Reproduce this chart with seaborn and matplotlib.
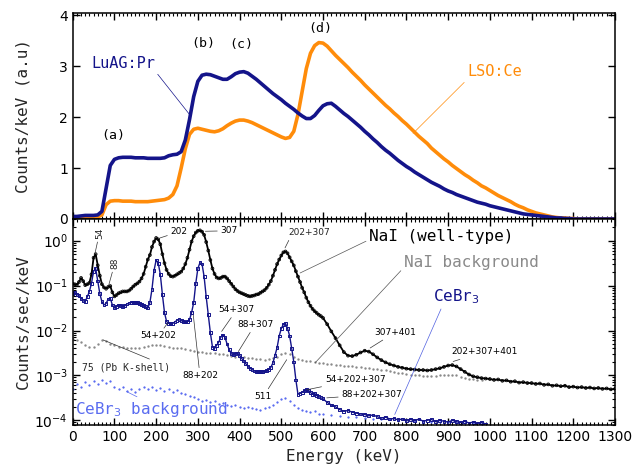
import numpy as np
import pandas as pd
import matplotlib
matplotlib.use("Agg")
import matplotlib.pyplot as plt
from matplotlib.ticker import MultipleLocator, LogLocator, NullFormatter
import seaborn as sns

NAVY = "#14148a"
ORANGE = "#ff8c0a"
GRAY = "#8a8a8a"
LIGHTBLUE = "#5a6cf0"
MONO = "DejaVu Sans Mono"

# ---------------- top panel: scintillator spectra (10 keV grid)
energy_top = np.arange(0, 1310, 10)
luag_pr = [0.05, 0.05, 0.06, 0.07, 0.07, 0.07, 0.08, 0.15, 0.60, 1.05,
           1.17, 1.20, 1.21, 1.21, 1.21, 1.20, 1.20, 1.20, 1.19, 1.19,
           1.19, 1.19, 1.20, 1.24, 1.26, 1.27, 1.32, 1.55, 1.95, 2.40,
           2.70, 2.82, 2.84, 2.83, 2.80, 2.77, 2.74, 2.74, 2.79, 2.85,
           2.88, 2.89, 2.86, 2.80, 2.74, 2.67, 2.60, 2.53, 2.46, 2.40,
           2.34, 2.27, 2.21, 2.15, 2.08, 2.02, 1.97, 1.97, 2.03, 2.13,
           2.22, 2.26, 2.27, 2.21, 2.14, 2.07, 2.01, 1.94, 1.87, 1.80,
           1.72, 1.65, 1.57, 1.50, 1.42, 1.35, 1.29, 1.22, 1.15, 1.09,
           1.03, 0.98, 0.92, 0.87, 0.82, 0.77, 0.72, 0.68, 0.64, 0.59,
           0.55, 0.52, 0.48, 0.45, 0.42, 0.39, 0.36, 0.33, 0.31, 0.29,
           0.26, 0.24, 0.22, 0.20, 0.18, 0.16, 0.14, 0.12, 0.10, 0.09,
           0.08, 0.07, 0.06, 0.05, 0.04, 0.03, 0.02, 0.02, 0.01, 0.01,
           0, 0, 0, 0, 0, 0, 0, 0, 0, 0, 0]
lso_ce = [0.00, 0.01, 0.02, 0.02, 0.03, 0.03, 0.04, 0.08, 0.28, 0.35,
          0.36, 0.36, 0.35, 0.35, 0.35, 0.34, 0.34, 0.34, 0.34, 0.35,
          0.36, 0.37, 0.38, 0.41, 0.48, 0.65, 1.00, 1.38, 1.66, 1.76,
          1.78, 1.76, 1.74, 1.72, 1.71, 1.73, 1.77, 1.83, 1.88, 1.92,
          1.94, 1.94, 1.92, 1.89, 1.85, 1.81, 1.77, 1.73, 1.69, 1.65,
          1.61, 1.58, 1.60, 1.72, 2.05, 2.50, 2.95, 3.25, 3.40, 3.46,
          3.45, 3.39, 3.30, 3.21, 3.13, 3.05, 2.97, 2.88, 2.80, 2.72,
          2.63, 2.55, 2.47, 2.39, 2.31, 2.23, 2.16, 2.08, 2.01, 1.93,
          1.86, 1.78, 1.70, 1.62, 1.55, 1.48, 1.39, 1.32, 1.25, 1.18,
          1.12, 1.05, 0.99, 0.93, 0.87, 0.82, 0.76, 0.71, 0.65, 0.61,
          0.56, 0.51, 0.46, 0.42, 0.38, 0.34, 0.29, 0.25, 0.22, 0.18,
          0.15, 0.12, 0.10, 0.08, 0.06, 0.04, 0.03, 0.02, 0.02, 0.01,
          0.01, 0, 0, 0, 0, 0, 0, 0, 0, 0, 0]

# ---------------- bottom panel: log10(counts/sec/keV)
nai_energy = np.r_[np.arange(0, 600, 5), np.arange(600, 1310, 10)]
nai_log = [-0.96, -0.97, -0.98, -0.92, -0.83, -0.90, -0.99, -0.97, -0.94, -0.75,
           -0.38, -0.30, -0.55, -0.78, -0.97, -1.04, -1.07, -1.03, -1.01, -1.15,
           -1.24, -1.21, -1.17, -1.15, -1.13, -1.13, -1.13, -1.11, -1.07, -1.02,
           -0.98, -0.95, -0.91, -0.84, -0.74, -0.58, -0.42, -0.32, -0.14, -0.02,
           0.06, 0.03, -0.08, -0.30, -0.50, -0.65, -0.74, -0.79, -0.80, -0.78,
           -0.75, -0.72, -0.69, -0.62, -0.52, -0.38, -0.20, -0.02, 0.10, 0.18,
           0.22, 0.23, 0.20, 0.13, -0.03, -0.22, -0.43, -0.62, -0.74, -0.82,
           -0.84, -0.83, -0.80, -0.80, -0.84, -0.90, -0.96, -1.02, -1.08, -1.12,
           -1.15, -1.17, -1.19, -1.21, -1.23, -1.24, -1.23, -1.22, -1.20, -1.19,
           -1.16, -1.13, -1.10, -1.05, -0.98, -0.90, -0.78, -0.65, -0.52, -0.42,
           -0.33, -0.26, -0.24, -0.28, -0.37, -0.46, -0.55, -0.68, -0.80, -0.92,
           -1.05, -1.15, -1.27, -1.37, -1.45, -1.52, -1.57, -1.61, -1.65, -1.68,
           # 600 keV onwards, 10 keV steps
           -1.72, -1.86, -2.02, -2.17, -2.33, -2.48, -2.56, -2.57, -2.54, -2.49,
           -2.45, -2.47, -2.53, -2.60, -2.66, -2.71, -2.75, -2.78, -2.81, -2.83,
           -2.85, -2.86, -2.87, -2.88, -2.88, -2.89, -2.88, -2.86, -2.84, -2.81,
           -2.78, -2.77, -2.80, -2.86, -2.92, -2.98, -3.02, -3.04, -3.06, -3.07,
           -3.08, -3.10, -3.09, -3.12, -3.11, -3.14, -3.13, -3.16, -3.15, -3.17,
           -3.17, -3.19, -3.18, -3.21, -3.20, -3.23, -3.22, -3.24, -3.23, -3.26,
           -3.25, -3.27, -3.26, -3.28, -3.27, -3.29, -3.28, -3.30, -3.29, -3.31, -3.30]

nai_bg_energy = np.arange(0, 990, 10)
nai_bg_log = [-2.20, -2.22, -2.25, -2.33, -2.37, -2.36, -2.30, -2.22, -2.24, -2.29,
              -2.33, -2.36, -2.37, -2.38, -2.39, -2.39, -2.38, -2.36, -2.34, -2.33,
              -2.32, -2.32, -2.34, -2.36, -2.38, -2.39, -2.40, -2.42, -2.44, -2.45,
              -2.47, -2.48, -2.49, -2.50, -2.51, -2.52, -2.53, -2.54, -2.56, -2.58,
              -2.59, -2.60, -2.61, -2.62, -2.63, -2.64, -2.65, -2.64, -2.62, -2.58,
              -2.53, -2.50, -2.53, -2.58, -2.63, -2.65, -2.67, -2.69, -2.71, -2.72,
              -2.73, -2.74, -2.75, -2.76, -2.77, -2.78, -2.79, -2.80, -2.81, -2.82,
              -2.83, -2.84, -2.85, -2.86, -2.87, -2.88, -2.90, -2.92, -2.94, -2.95,
              -2.97, -2.98, -2.99, -3.00, -3.01, -3.02, -3.02, -3.01, -3.00, -2.99,
              -2.98, -2.98, -3.00, -3.03, -3.06, -3.08, -3.09, -3.10, -3.11]

cebr_energy = np.r_[np.arange(0, 600, 5), np.arange(600, 1000, 10)]
cebr_log = [-1.17, -1.15, -1.20, -1.22, -1.28, -1.34, -1.35, -1.25, -1.13, -0.95,
            -0.68, -0.62, -0.90, -1.18, -1.36, -1.43, -1.40, -1.30, -1.28, -1.43,
            -1.50, -1.46, -1.43, -1.44, -1.47, -1.45, -1.41, -1.39, -1.38, -1.37,
            -1.37, -1.38, -1.40, -1.42, -1.44, -1.47, -1.50, -1.38, -1.08, -0.66,
            -0.43, -0.50, -0.75, -1.20, -1.60, -1.80, -1.84, -1.85, -1.84, -1.81,
            -1.77, -1.76, -1.78, -1.80, -1.81, -1.80, -1.76, -1.60, -1.38, -0.95,
            -0.62, -0.49, -0.52, -0.80, -1.25, -1.65, -2.05, -2.37, -2.40, -2.33,
            -2.26, -2.15, -2.10, -2.15, -2.30, -2.42, -2.52, -2.54, -2.51, -2.50,
            -2.55, -2.62, -2.68, -2.74, -2.80, -2.84, -2.87, -2.90, -2.92, -2.92,
            -2.92, -2.91, -2.90, -2.89, -2.87, -2.82, -2.72, -2.55, -2.38, -2.12,
            -1.96, -1.86, -1.84, -1.95, -2.12, -2.40, -2.70, -3.10, -3.42, -3.40,
            -3.38, -3.34, -3.32, -3.33, -3.38, -3.42, -3.40, -3.45, -3.47, -3.50,
            # 600 keV onwards, 10 keV steps
            -3.52, -3.60, -3.66, -3.70, -3.76, -3.80, -3.78, -3.82, -3.84, -3.86,
            -3.87, -3.90, -3.88, -3.92, -3.95, -3.93, -3.97, -3.96, -3.99, -3.97,
            -4.00, -3.98, -4.01, -3.97, -4.02, -4.00, -3.98, -4.03, -4.00, -4.02,
            -4.04, -4.00, -4.03, -4.05, -4.02, -4.06, -4.04, -4.07, -4.05, -4.08]

cebr_bg_energy = np.r_[np.arange(0, 600, 10), np.arange(600, 1000, 20)]
cebr_bg_log = [-3.30, -3.20, -3.25, -3.15, -3.22, -3.12, -3.20, -3.10, -3.16, -3.12,
               -3.26, -3.30, -3.25, -3.34, -3.30, -3.36, -3.30, -3.26, -3.30, -3.26,
               -3.32, -3.28, -3.34, -3.30, -3.36, -3.33, -3.40, -3.42, -3.45, -3.48,
               -3.52, -3.56, -3.55, -3.60, -3.58, -3.63, -3.62, -3.66, -3.68, -3.67,
               -3.70, -3.72, -3.70, -3.73, -3.74, -3.76, -3.72, -3.70, -3.66, -3.60,
               -3.52, -3.50, -3.58, -3.65, -3.72, -3.78, -3.80, -3.82, -3.80, -3.85,
               -3.86, -3.88, -3.90, -3.92, -3.93, -3.95, -3.96, -3.97, -3.98, -4.00,
               -4.00, -4.02, -4.02, -4.03, -4.04, -4.03, -4.05, -4.06, -4.07, -4.08]

# peak labels: (text, energy of peak, log10 at peak, text energy, text log10)
peak_labels = [
    ("202", 209, 0.06, 255, 0.20),
    ("307", 318, 0.21, 375, 0.22),
    ("54+202", 228, -1.83, 205, -2.12),
    ("88+202", 289, -1.65, 305, -3.00),
    ("54+307", 357, -2.02, 393, -1.54),
    ("88+307", 397, -2.47, 437, -1.87),
    ("511", 513, -2.65, 457, -3.47),
    ("54+202+307", 561, -3.32, 677, -3.10),
    ("88+202+307", 609, -3.50, 717, -3.43),
    ("307+401", 713, -2.39, 773, -2.04),
    ("202+307+401", 912, -2.69, 988, -2.47),
]

sns.set_theme(style="ticks")
plt.rcParams["font.family"] = ["DejaVu Sans"]
plt.rcParams["axes.linewidth"] = 1.1

fig = plt.figure(figsize=(6.34, 4.73), dpi=100)
ax_top = fig.add_axes([0.1147, 0.537, 0.8553, 0.4355])
ax_bot = fig.add_axes([0.1147, 0.1015, 0.8553, 0.4355], sharex=ax_top)

# ---- top
sns.lineplot(x=energy_top, y=lso_ce, color=ORANGE, lw=2.6, ax=ax_top)
sns.lineplot(x=energy_top, y=luag_pr, color=NAVY, lw=2.6, ax=ax_top)
ax_top.set_ylim(0, 4.04)
ax_top.set_ylabel("Counts/keV (a.u)", fontfamily=MONO, fontsize=11.5)
ax_top.yaxis.set_major_locator(MultipleLocator(1))
ax_top.tick_params(labelbottom=False)

ax_top.annotate("LuAG:Pr", xy=(281, 2.04), xytext=(121, 3.05), color=NAVY,
                fontfamily=MONO, fontsize=11, ha="center", va="center",
                arrowprops=dict(arrowstyle="-", color=NAVY, lw=0.5,
                                relpos=(1, 0), shrinkA=0, shrinkB=0))
ax_top.annotate("LSO:Ce", xy=(816, 1.68), xytext=(1012, 2.89), color=ORANGE,
                fontfamily=MONO, fontsize=11, ha="center", va="center",
                arrowprops=dict(arrowstyle="-", color=ORANGE, lw=0.5,
                                relpos=(0, 0), shrinkA=0, shrinkB=0))
for lab, xe, yv in [("(a)", 97, 1.63), ("(b)", 313, 3.44),
                    ("(c)", 403, 3.42), ("(d)", 594, 3.74)]:
    ax_top.text(xe, yv, lab, fontfamily=MONO, fontsize=9.5,
                ha="center", va="center", color="black")

# ---- bottom
nai = pd.DataFrame({"energy": nai_energy, "rate": 10 ** np.array(nai_log)})
cebr = pd.DataFrame({"energy": cebr_energy, "rate": 10 ** np.array(cebr_log)})

sns.scatterplot(x=nai_bg_energy, y=10 ** np.array(nai_bg_log), marker="o",
                s=1.8, color=GRAY, edgecolor=GRAY, linewidth=0.3, ax=ax_bot)
sns.scatterplot(x=cebr_bg_energy, y=10 ** np.array(cebr_bg_log), marker="o",
                s=1.6, color=LIGHTBLUE, edgecolor=LIGHTBLUE, linewidth=0.3, ax=ax_bot)
sns.lineplot(data=nai, x="energy", y="rate", color="black", lw=1.3, ax=ax_bot)
sns.scatterplot(data=nai, x="energy", y="rate", marker="o", s=4,
                facecolor="none", edgecolor="black", linewidth=0.6, ax=ax_bot)
sns.lineplot(data=cebr, x="energy", y="rate", color=NAVY, lw=1.0, ax=ax_bot)
sns.scatterplot(data=cebr, x="energy", y="rate", marker="s", s=4,
                facecolor="none", edgecolor=NAVY, linewidth=0.7, ax=ax_bot)

ax_bot.set_yscale("log")
ax_bot.set_ylim(7.87e-5, 3.04)
ax_bot.set_xlim(0, 1300)
ax_bot.set_ylabel("Counts/sec/keV", fontfamily=MONO, fontsize=11.5)
ax_bot.set_xlabel("Energy (keV)", fontfamily=MONO, fontsize=11.5)
ax_bot.yaxis.set_major_locator(LogLocator(base=10, numticks=10))
ax_bot.yaxis.set_minor_locator(LogLocator(base=10, subs=np.arange(2, 10), numticks=20))
ax_bot.yaxis.set_minor_formatter(NullFormatter())

line_kw = dict(arrowstyle="-", color="#333333", lw=0.5, shrinkA=0, shrinkB=0)
for lab, xe, yl, tx, tyl in peak_labels:
    ax_bot.annotate(lab, xy=(xe, 10 ** yl), xytext=(tx, 10 ** tyl),
                    fontsize=6.5, ha="center", va="center", color="black",
                    arrowprops=line_kw)
ax_bot.annotate("202+307", xy=(509, 10 ** -0.16), xytext=(567, 10 ** 0.18),
                fontsize=6.5, ha="center", va="center",
                arrowprops=dict(line_kw, relpos=(0.05, 0)))
ax_bot.annotate("54", xy=(53, 10 ** -0.30), xytext=(64, 10 ** 0.17),
                fontsize=6.5, rotation=90, ha="center", va="center",
                arrowprops=line_kw)
ax_bot.annotate("88", xy=(86, 10 ** -1.0), xytext=(101, 10 ** -0.5),
                fontsize=6.5, rotation=90, ha="center", va="center",
                arrowprops=line_kw)
ax_bot.annotate("75 (Pb K-shell)", xy=(73, 10 ** -2.21), xytext=(129, 10 ** -2.82),
                fontfamily=MONO, fontsize=7, ha="center", va="center",
                arrowprops=dict(line_kw, relpos=(0.85, 1)))

ax_bot.annotate("NaI (well-type)", xy=(545, 10 ** -0.72), xytext=(884, 10 ** 0.09),
                fontfamily=MONO, fontsize=11.5, ha="center", va="center",
                color="black", arrowprops=dict(line_kw, color="#555555", relpos=(0, 0.3)))
ax_bot.annotate("NaI background", xy=(581, 10 ** -2.72), xytext=(956, 10 ** -0.49),
                fontfamily=MONO, fontsize=11.5, ha="center", va="center",
                color=GRAY, arrowprops=dict(line_kw, color="#555555", relpos=(0, 0.2)))
ax_bot.annotate("CeBr$_3$", xy=(772, 10 ** -3.87), xytext=(920, 10 ** -1.24),
                fontfamily=MONO, fontsize=11.5, ha="center", va="center",
                color=NAVY, arrowprops=dict(line_kw, color="#5060e0", relpos=(0.2, 0)))
ax_bot.annotate("CeBr$_3$ background", xy=(129, 10 ** -3.36), xytext=(5, 10 ** -3.76),
                fontfamily=MONO, fontsize=11.5, ha="left", va="center",
                color=LIGHTBLUE, arrowprops=dict(line_kw, color=LIGHTBLUE, relpos=(0.45, 1)))

for ax in (ax_top, ax_bot):
    ax.xaxis.set_major_locator(MultipleLocator(100))
    ax.xaxis.set_minor_locator(MultipleLocator(10))
    ax.tick_params(which="both", direction="in", top=True, right=True,
                   labelsize=10, colors="black")
    ax.tick_params(which="major", length=5, width=1)
    ax.tick_params(which="minor", length=2.5, width=0.8)
    for sp in ax.spines.values():
        sp.set_color("black")

ax_top.yaxis.set_label_coords(-0.078, 0.5)
ax_bot.yaxis.set_label_coords(-0.078, 0.5)

fig.savefig("out.png", dpi=100)
